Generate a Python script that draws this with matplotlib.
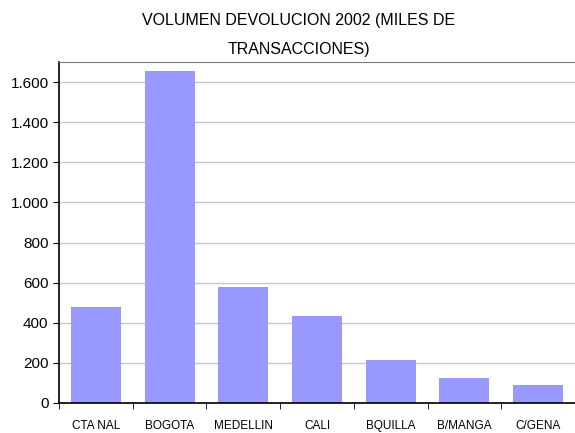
import matplotlib
matplotlib.use('Agg')
import matplotlib.pyplot as plt
from matplotlib.ticker import FuncFormatter, FixedLocator

# Datos
ciudades = ['CTA NAL', 'BOGOTA', 'MEDELLIN', 'CALI', 'BQUILLA', 'B/MANGA', 'C/GENA']
volumen = [479, 1655, 578, 434, 214, 125, 90]

plt.rcParams['font.family'] = ['Liberation Sans', 'DejaVu Sans']

fig = plt.figure(figsize=(5.75, 4.33), dpi=100)
ax = fig.add_axes([59/575, 30/433, (575-59)/575, (403-62)/433])

x = range(len(ciudades))
ax.bar(x, volumen, width=0.68, color='#9999FF', zorder=2)

ax.set_xlim(-0.5, len(ciudades) - 0.5)
ax.set_ylim(0, 1700)
ax.set_yticks(range(0, 1601, 200))
ax.yaxis.set_major_formatter(FuncFormatter(lambda v, p: f'{int(v):,}'.replace(',', '.')))
ax.grid(axis='y', color='#C8C8C8', linewidth=1, zorder=0)

ax.set_xticks(list(x))
ax.set_xticklabels(ciudades, fontsize=8.5)
ax.xaxis.set_minor_locator(FixedLocator([i - 0.5 for i in range(len(ciudades) + 1)]))
ax.tick_params(axis='x', which='major', length=0, pad=12)
ax.tick_params(axis='x', which='minor', length=4, direction='out', color='black')
ax.tick_params(axis='y', labelsize=11, length=4, direction='out', color='black')

for s in ['left', 'bottom']:
    ax.spines[s].set_color('black')
    ax.spines[s].set_linewidth(1.2)
ax.spines['top'].set_color('#808080')
ax.spines['right'].set_visible(False)

fig.text(0.5 + 0.02, 1 - 13/433, 'VOLUMEN DEVOLUCION 2002 (MILES DE\nTRANSACCIONES)',
         ha='center', va='top', fontsize=11.5, linespacing=2.15)

fig.savefig('out.png', dpi=100)
